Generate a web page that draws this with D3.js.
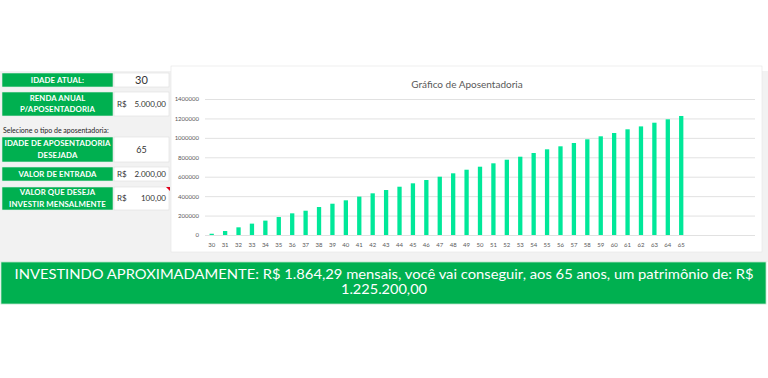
<!DOCTYPE html>
<html>
<head>
<meta charset="utf-8">
<script src="https://cdn.jsdelivr.net/npm/d3@7"></script>
<style>
  body { margin: 0; background: #fff; }
  svg { display: block; }
</style>
</head>
<body>
<svg id="drawing_region"></svg>
<script>
// --- data ---
const ages = ["30","31","32","33","34","35","36","37","38","39","40","41","42","43","44","45","46","47",
  "48","49","50","51","52","53","54","55","56","57","58","59","60","61","62","63","64","65"];
const patrimonio = [13000, 41000, 79000, 117000, 148000, 185000, 223000, 250000, 288000, 322000, 357000,
  395000, 429000, 463000, 497000, 532000, 566000, 600000, 635000, 672000, 703000, 738000, 775000, 806000,
  844000, 882000, 913000, 947000, 985000, 1016000, 1050000, 1088000, 1118000, 1156000, 1191000, 1225200];
const emptySlots = 5; // blank rows after 65 in the sheet
const yTicks = [0, 200000, 400000, 600000, 800000, 1000000, 1200000, 1400000];

const fieldLabels = [["IDADE ATUAL:"], ["RENDA ANUAL", "P/APOSENTADORIA"], ["IDADE DE APOSENTADORIA", "DESEJADA"],
  ["VALOR DE ENTRADA"], ["VALOR QUE DESEJA", "INVESTIR MENSALMENTE"]];
const fieldCurrency = ["", "R$", "", "R$", "R$"];
const fieldValues = ["30", "5.000,00", "65", "2.000,00", "100,00"];
const hint = "Selecione o tipo de aposentadoria:";
const chartTitle = "Gráfico de Aposentadoria";
const bannerLines = ["INVESTINDO APROXIMADAMENTE: R$ 1.864,29 mensais, você vai conseguir, aos 65 anos, um patrimônio de: R$",
  "1.225.200,00"];

// --- layout ---
const W = 768, H = 378;
const rowBoxes = [[73, 87], [92, 116], [137, 162], [167, 181], [187, 210]];
const font = "Lato, 'Open Sans', sans-serif";
const svg = d3.select("#drawing_region").attr("width", W).attr("height", H)
  .style("font-family", font);

// background band
svg.append("rect").attr("x", 0).attr("y", 71).attr("width", W).attr("height", 191).attr("fill", "#f2f2f2");

// left panel cells
const panel = svg.append("g");
fieldLabels.forEach((lines, i) => {
  const [y0, y1] = rowBoxes[i];
  const h = y1 - y0;
  panel.append("rect").attr("x", 2).attr("y", y0).attr("width", 111).attr("height", h)
    .attr("fill", "#00b050").attr("stroke", "#e2efe6").attr("stroke-width", 0.6);
  panel.append("rect").attr("x", 114).attr("y", y0).attr("width", 55).attr("height", h)
    .attr("fill", "#fff").attr("stroke", "#dcdcdc").attr("stroke-width", 0.6);
  const cy = (y0 + y1) / 2;
  lines.forEach((t, j) => {
    panel.append("text").attr("x", 57.5).attr("y", cy + (j - (lines.length - 1) / 2) * 11.5)
      .attr("dy", "0.35em").attr("text-anchor", "middle").attr("fill", "#fff")
      .attr("font-weight", "bold").attr("font-size", "7.8px").attr("letter-spacing", "0.1px").text(t);
  });
  if (fieldCurrency[i]) {
    panel.append("text").attr("x", 117).attr("y", cy).attr("dy", "0.35em")
      .attr("font-size", "8px").attr("fill", "#333").text(fieldCurrency[i]);
    panel.append("text").attr("x", 166).attr("y", cy).attr("dy", "0.35em").attr("text-anchor", "end")
      .attr("font-size", "8px").attr("fill", "#333").text(fieldValues[i]);
  } else {
    panel.append("text").attr("x", 141.5).attr("y", cy).attr("dy", "0.35em").attr("text-anchor", "middle")
      .attr("font-size", i === 0 ? "11px" : "9px").attr("fill", "#333").text(fieldValues[i]);
  }
});
// comment marker on last value cell
panel.append("path").attr("d", "M166,187 L170,187 L170,191 Z").attr("fill", "#e0001b");
panel.append("text").attr("x", 3).attr("y", 131).attr("dy", "0.35em").attr("font-size", "7px")
  .attr("fill", "#222").text(hint);

// chart card
svg.append("rect").attr("x", 171).attr("y", 66).attr("width", 591).attr("height", 186)
  .attr("fill", "#fff").attr("stroke", "#e3e3e3").attr("stroke-width", 0.6);

const margin = { left: 205, right: 13, top: 99, bottom: 143 };
const innerW = W - margin.left - margin.right;
const innerH = H - margin.top - margin.bottom;
const chart = svg.append("g").attr("transform", `translate(${margin.left},${margin.top})`);

const slots = d3.range(ages.length + emptySlots);
const xscale = d3.scaleBand().domain(slots).range([0, innerW]).paddingInner(0.68).paddingOuter(0.34);
const yscale = d3.scaleLinear().domain([0, 1400000]).range([innerH, 0]);

svg.append("text").attr("x", 467).attr("y", 84).attr("dy", "0.35em").attr("text-anchor", "middle")
  .attr("font-size", "10px").attr("fill", "#595959").text(chartTitle);

// gridlines + y labels
const yaxis = d3.axisLeft(yscale).tickValues(yTicks).tickSize(-innerW).tickPadding(6).tickFormat(d3.format("d"));
const yg = chart.append("g").call(yaxis);
yg.select(".domain").remove();
yg.selectAll(".tick line").attr("stroke", "#d9d9d9").attr("stroke-width", 0.8);
yg.selectAll(".tick text").attr("fill", "#595959").attr("font-size", "6px").attr("font-family", font);

// x axis labels
const xaxis = d3.axisBottom(xscale).tickSize(0).tickPadding(8).tickFormat(i => ages[i] || "");
const xg = chart.append("g").attr("transform", `translate(0,${innerH})`).call(xaxis);
xg.select(".domain").remove();
xg.selectAll(".tick text").attr("fill", "#595959").attr("font-size", "6px").attr("font-family", font);

// bars
chart.selectAll("rect.bar").data(patrimonio).join("rect").attr("class", "bar")
  .attr("x", (d, i) => xscale(i)).attr("width", xscale.bandwidth())
  .attr("y", d => yscale(d)).attr("height", d => innerH - yscale(d))
  .attr("fill", "#00e899");

// banner
svg.append("rect").attr("x", 1).attr("y", 262).attr("width", 765).attr("height", 42)
  .attr("fill", "#00b050").attr("stroke", "#b7e4c7").attr("stroke-width", 0.8);
svg.append("text").attr("x", 384).attr("y", 274.5).attr("dy", "0.35em").attr("text-anchor", "middle")
  .attr("fill", "#fff").attr("font-size", "13.5px").attr("textLength", 739).attr("lengthAdjust", "spacingAndGlyphs")
  .text(bannerLines[0]);
svg.append("text").attr("x", 384).attr("y", 289.5).attr("dy", "0.35em").attr("text-anchor", "middle")
  .attr("fill", "#fff").attr("font-size", "13.5px").attr("textLength", 86).attr("lengthAdjust", "spacingAndGlyphs")
  .text(bannerLines[1]);
</script>
</body>
</html>
